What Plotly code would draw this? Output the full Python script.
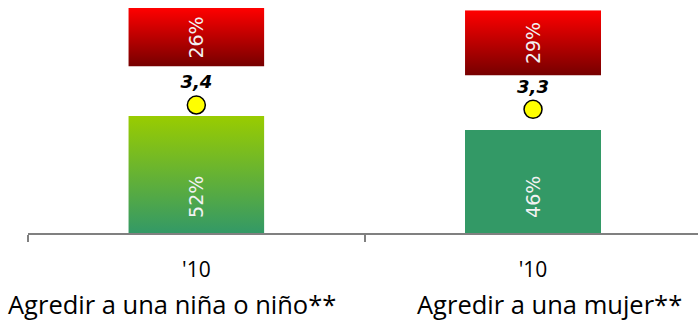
import base64
import plotly.graph_objects as go

# ---- data ----
categories = ["Agredir a una niña o niño**", "Agredir a una mujer**"]
years = ["'10", "'10"]
agree = [52, 46]        # green, bottom segment (%)
neutral = [22, 24]      # not drawn (space between segments)
disagree = [26, 29]     # red, top segment (%)
mean_score = [3.4, 3.3] # yellow circles

# ---- style ----
bar_w = 0.404
lbl_font = "DejaVu Sans, Verdana, sans-serif"
cat_font = "Open Sans, sans-serif"
green_solid = "#339966"
green_grad = [("0%", "#99CC00"), ("100%", "#339966")]
red_grad = [("0%", "#FF0000"), ("100%", "#760000")]
green_uses_gradient = [True, False]
label_shifts = [-24, 16]


def grad_uri(stops):
    st = "".join(f'<stop offset="{o}" stop-color="{c}"/>' for o, c in stops)
    svg = ('<svg xmlns="http://www.w3.org/2000/svg" width="10" height="100" '
           'viewBox="0 0 10 100" preserveAspectRatio="none">'
           f'<defs><linearGradient id="g" x1="0" y1="0" x2="0" y2="1">{st}</linearGradient></defs>'
           '<rect x="0" y="0" width="10" height="100" fill="url(#g)"/></svg>')
    return "data:image/svg+xml;base64," + base64.b64encode(svg.encode()).decode()


nb = "\u00a0"
fig = go.Figure()
fig.add_trace(go.Bar(
    x=categories, y=agree, width=bar_w,
    marker=dict(color=["rgba(0,0,0,0)" if g else green_solid for g in green_uses_gradient],
                line=dict(width=0)),
    texttemplate=nb * 2 + "%{y}%", textposition="inside", insidetextanchor="start",
    textangle=-90, insidetextfont=dict(family=lbl_font, size=19, color="#F2F2F2"),
    hoverinfo="skip", showlegend=False))
fig.add_trace(go.Bar(
    x=categories, y=neutral, width=bar_w,
    marker=dict(color="rgba(0,0,0,0)", line=dict(width=0)),
    hoverinfo="skip", showlegend=False))
fig.add_trace(go.Bar(
    x=categories, y=disagree, width=bar_w,
    marker=dict(color="rgba(0,0,0,0)", line=dict(width=0)),
    texttemplate="%{y}%", textposition="inside", insidetextanchor="middle",
    textangle=-90, insidetextfont=dict(family=lbl_font, size=19, color="#F2F2F2"),
    hoverinfo="skip", showlegend=False))
fig.add_trace(go.Scatter(
    x=categories, y=mean_score, yaxis="y2", mode="markers+text",
    marker=dict(size=18, color="#FFFF00", line=dict(color="#000000", width=1.5)),
    texttemplate="%{y:.1f}", textposition="top center",
    textfont=dict(family=lbl_font, size=18, color="#000000", weight="bold", style="italic"),
    hoverinfo="skip", showlegend=False))

# gradient fills, positioned from the data through the axes
images = []
for i in range(len(categories)):
    if green_uses_gradient[i]:
        images.append(dict(source=grad_uri(green_grad), xref="x", yref="y",
                           x=i - bar_w / 2, y=agree[i], sizex=bar_w, sizey=agree[i],
                           xanchor="left", yanchor="top", sizing="stretch", layer="below"))
    top = agree[i] + neutral[i] + disagree[i]
    images.append(dict(source=grad_uri(red_grad), xref="x", yref="y",
                       x=i - bar_w / 2, y=top, sizex=bar_w, sizey=disagree[i],
                       xanchor="left", yanchor="top", sizing="stretch", layer="below"))

annotations = [dict(text=c, xref="x", yref="paper", x=i, y=0, xshift=label_shifts[i],
                    yshift=-52, xanchor="center", yanchor="top", showarrow=False,
                    font=dict(family=cat_font, size=25.5, color="#000000"))
               for i, c in enumerate(categories)]

fig.update_layout(
    width=698, height=320,
    margin=dict(l=28, r=0, t=8, b=87),
    barmode="stack", bargap=0,
    separators=",.",
    paper_bgcolor="white", plot_bgcolor="rgba(0,0,0,0)",
    images=images, annotations=annotations,
    xaxis=dict(type="category", range=[-0.5, 1.49], tickson="boundaries",
               tickmode="array", tickvals=categories, ticktext=years,
               ticks="outside", ticklen=7, tickwidth=1.5, tickcolor="#808080",
               ticklabelstandoff=17,
               showline=True, linecolor="#808080", linewidth=1.5,
               showgrid=False, zeroline=False,
               tickfont=dict(family=cat_font, size=21, color="#000000")),
    yaxis=dict(range=[0, 100], visible=False, showgrid=False),
    yaxis2=dict(range=[0.42, 5.66], overlaying="y", visible=False, showgrid=False),
)

fig.write_html("out.html", config={"displayModeBar": False},
               post_script="document.body.style.margin='0';")
